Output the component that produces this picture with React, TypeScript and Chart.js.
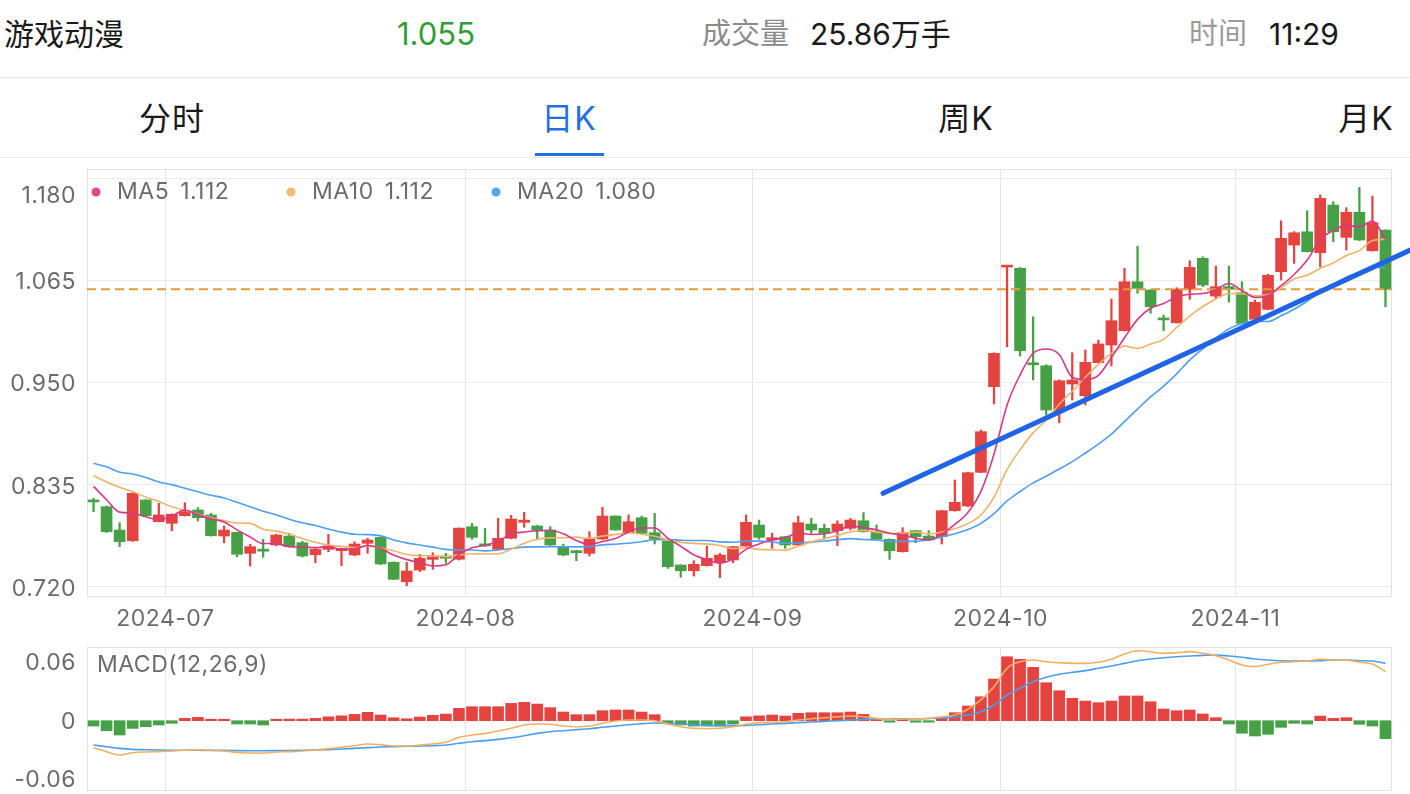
import React, { useEffect, useRef } from 'react';
import { Chart, registerables } from 'chart.js';
Chart.register(...registerables);

// ---------- DATA ----------
const dates = [
  '2024-06-21','2024-06-24','2024-06-25','2024-06-26','2024-06-27','2024-06-28',
  '2024-07-01','2024-07-02','2024-07-03','2024-07-04','2024-07-05','2024-07-08','2024-07-09','2024-07-10','2024-07-11','2024-07-12',
  '2024-07-15','2024-07-16','2024-07-17','2024-07-18','2024-07-19','2024-07-22','2024-07-23','2024-07-24','2024-07-25','2024-07-26',
  '2024-07-29','2024-07-30','2024-07-31',
  '2024-08-01','2024-08-02','2024-08-05','2024-08-06','2024-08-07','2024-08-08','2024-08-09','2024-08-12','2024-08-13','2024-08-14',
  '2024-08-15','2024-08-16','2024-08-19','2024-08-20','2024-08-21','2024-08-22','2024-08-23','2024-08-26','2024-08-27','2024-08-28',
  '2024-08-29','2024-08-30',
  '2024-09-02','2024-09-03','2024-09-04','2024-09-05','2024-09-06','2024-09-09','2024-09-10','2024-09-11','2024-09-12','2024-09-13',
  '2024-09-18','2024-09-19','2024-09-20','2024-09-23','2024-09-24','2024-09-25','2024-09-26','2024-09-27','2024-09-30',
  '2024-10-08','2024-10-09','2024-10-10','2024-10-11','2024-10-14','2024-10-15','2024-10-16','2024-10-17','2024-10-18','2024-10-21',
  '2024-10-22','2024-10-23','2024-10-24','2024-10-25','2024-10-28','2024-10-29','2024-10-30','2024-10-31',
  '2024-11-01','2024-11-04','2024-11-05','2024-11-06','2024-11-07','2024-11-08','2024-11-11','2024-11-12','2024-11-13','2024-11-14',
  '2024-11-15','2024-11-18',
];

const opens = [
  0.8165,0.8101,0.7838,0.7718,0.8177,0.7932,0.7914,0.8000,0.8064,0.8008,
  0.7771,0.7813,0.7576,0.7620,0.7670,0.7771,0.7696,0.7560,0.7621,0.7605,
  0.7557,0.7689,0.7756,0.7475,0.7256,0.7388,0.7508,0.7546,0.7509,0.7876,
  0.7680,0.7621,0.7745,0.7925,0.7884,0.7839,0.7651,0.7605,0.7576,0.7737,
  0.7996,0.7808,0.7977,0.7808,0.7715,0.7444,0.7380,0.7437,0.7470,0.7501,
  0.7658,0.7895,0.7726,0.7763,0.7670,0.7906,0.7858,0.7831,0.7858,0.7943,
  0.7819,0.7734,0.7594,0.7831,0.7771,0.7763,0.8056,0.8110,0.8488,0.9453,
  1.0800,1.0786,0.9718,0.9689,0.9171,0.9483,0.9351,0.9723,0.9922,1.0083,
  1.0635,1.0542,1.0216,1.0173,1.0550,1.0899,1.0474,1.0580,1.0511,1.0212,
  1.0324,1.0748,1.1048,1.1198,1.0962,1.1499,1.1135,1.1417,1.0984,1.1217,
];
const closes = [
  0.8155,0.7819,0.7707,0.8252,0.8000,0.8008,0.8015,0.8045,0.7977,0.7774,
  0.7838,0.7565,0.7651,0.7600,0.7782,0.7651,0.7546,0.7620,0.7660,0.7632,
  0.7681,0.7726,0.7456,0.7283,0.7377,0.7520,0.7535,0.7520,0.7860,0.7756,
  0.7660,0.7745,0.7962,0.7950,0.7839,0.7670,0.7557,0.7583,0.7737,0.7996,
  0.7839,0.7932,0.7801,0.7737,0.7425,0.7380,0.7452,0.7520,0.7557,0.7651,
  0.7925,0.7756,0.7752,0.7670,0.7921,0.7839,0.7801,0.7906,0.7951,0.7819,
  0.7734,0.7605,0.7808,0.7763,0.7726,0.8056,0.8151,0.8484,0.8946,0.9829,
  1.0812,0.9858,0.9700,0.9190,0.9520,0.9528,0.9727,0.9934,1.0196,1.0635,
  1.0561,1.0354,1.0205,1.0550,1.0797,1.0598,1.0579,1.0550,1.0166,1.0403,
  1.0707,1.1124,1.1187,1.0973,1.1574,1.1198,1.1417,1.1105,1.1300,1.0550,
];
const highs = [
  0.8196,0.8110,0.7921,0.8260,0.8180,0.8139,0.8020,0.8146,0.8090,0.8027,
  0.7884,0.7813,0.7678,0.7734,0.7790,0.7801,0.7710,0.7630,0.7790,0.7635,
  0.7707,0.7745,0.7765,0.7480,0.7475,0.7565,0.7583,0.7576,0.7862,0.7914,
  0.7858,0.7970,0.8004,0.8038,0.7890,0.7876,0.7678,0.7610,0.7820,0.8094,
  0.7998,0.8008,0.7996,0.8026,0.7718,0.7448,0.7493,0.7658,0.7576,0.7655,
  0.8008,0.7951,0.7801,0.7766,0.7996,0.7970,0.7906,0.7943,0.7970,0.8034,
  0.7895,0.7738,0.7865,0.7835,0.7831,0.8060,0.8402,0.8490,0.8965,0.9835,
  1.0815,1.0795,1.0241,0.9700,0.9530,0.9836,0.9866,0.9978,1.0440,1.0786,
  1.1037,1.0545,1.0260,1.0568,1.0872,1.0917,1.0812,1.0812,1.0635,1.0429,
  1.0719,1.1322,1.1200,1.1435,1.1612,1.1536,1.1469,1.1698,1.1600,1.1220,
];
const lows = [
  0.8045,0.7810,0.7651,0.7710,0.7990,0.7930,0.7831,0.7995,0.7940,0.7770,
  0.7696,0.7538,0.7433,0.7531,0.7660,0.7645,0.7535,0.7470,0.7594,0.7437,
  0.7550,0.7576,0.7450,0.7278,0.7211,0.7369,0.7396,0.7464,0.7500,0.7734,
  0.7655,0.7615,0.7740,0.7869,0.7734,0.7665,0.7550,0.7493,0.7546,0.7732,
  0.7835,0.7805,0.7798,0.7681,0.7407,0.7306,0.7320,0.7433,0.7302,0.7470,
  0.7655,0.7734,0.7632,0.7632,0.7665,0.7801,0.7745,0.7662,0.7839,0.7815,
  0.7730,0.7508,0.7590,0.7696,0.7722,0.7681,0.8050,0.8100,0.8485,0.9258,
  0.9903,0.9798,0.9528,0.9134,0.9047,0.9303,0.9247,0.9720,0.9686,1.0080,
  1.0505,1.0279,1.0083,1.0170,1.0437,1.0580,1.0448,1.0406,1.0160,1.0185,
  1.0320,1.0654,1.0842,1.0970,1.0804,1.1086,1.0992,1.1100,1.0980,1.0354,
];

const ma5 = [
  0.833,0.818,0.804,0.803,0.7987,0.7957,0.7996,0.8064,0.8009,0.7964,
  0.793,0.784,0.7761,0.7686,0.7687,0.765,0.7646,0.764,0.7652,0.7622,
  0.7628,0.7664,0.7631,0.7556,0.7505,0.7472,0.7434,0.7447,0.7562,0.7638,
  0.7666,0.7708,0.7797,0.7815,0.7831,0.7833,0.7796,0.772,0.7677,0.7709,
  0.7742,0.7817,0.7861,0.7861,0.7747,0.7655,0.7559,0.7503,0.7467,0.7512,
  0.7621,0.7682,0.7728,0.7751,0.7805,0.7788,0.7797,0.7827,0.7884,0.7863,
  0.7842,0.7803,0.7783,0.7746,0.7727,0.7792,0.7901,0.8036,0.8273,0.8693,
  0.9244,0.9586,0.9829,0.9878,0.9816,0.9559,0.9533,0.958,0.9781,1.0004,
  1.0211,1.0336,1.0391,1.0462,1.0494,1.0502,1.0547,1.0615,1.0538,1.0459,
  1.0481,1.059,1.0717,1.0879,1.1113,1.1211,1.127,1.1253,1.1319,1.1114,
];
const ma10 = [
  0.845,0.838,0.832,0.827,0.821,0.816,0.810,0.806,0.802,0.7975,
  0.7944,0.7918,0.7913,0.7847,0.7826,0.779,0.7743,0.77,0.7669,0.7655,
  0.7639,0.7655,0.7635,0.7604,0.7563,0.755,0.7549,0.7539,0.7559,0.7571,
  0.7569,0.7571,0.7622,0.7689,0.7735,0.775,0.7752,0.7758,0.7746,0.777,
  0.7788,0.7807,0.779,0.7769,0.7728,0.7699,0.7688,0.7682,0.7664,0.7629,
  0.7638,0.762,0.7616,0.7609,0.7658,0.7704,0.7739,0.7778,0.7817,0.7834,
  0.7815,0.78,0.7805,0.7815,0.7795,0.7817,0.7852,0.791,0.8009,0.821,
  0.8518,0.8743,0.8933,0.9075,0.9255,0.9402,0.9559,0.9704,0.9829,0.991,
  0.9885,0.9935,0.9986,1.0122,1.0249,1.0356,1.0441,1.0503,1.05,1.0477,
  1.0491,1.0568,1.0666,1.0708,1.0786,1.0846,1.093,1.0985,1.1099,1.1114,
];
const ma20 = [
  0.859,0.855,0.849,0.847,0.843,0.838,0.835,0.831,0.827,0.823,
  0.820,0.815,0.810,0.805,0.801,0.796,0.792,0.789,0.785,0.7815,
  0.7791,0.7787,0.7774,0.7726,0.7694,0.767,0.7646,0.762,0.7614,0.7613,
  0.7604,0.7613,0.7629,0.7646,0.7649,0.765,0.765,0.7649,0.7652,0.7671,
  0.7679,0.7689,0.7706,0.7729,0.7731,0.7724,0.772,0.772,0.7705,0.77,
  0.7713,0.7713,0.7703,0.7689,0.7693,0.7702,0.7714,0.773,0.7741,0.7732,
  0.7726,0.771,0.771,0.7712,0.7727,0.7761,0.7796,0.7844,0.7913,0.8022,
  0.8166,0.8272,0.8369,0.8445,0.8525,0.8609,0.8706,0.8807,0.8919,0.906,
  0.9201,0.9339,0.9459,0.9598,0.9752,0.9879,1.0,1.0104,1.0165,1.0193,
  1.0188,1.0251,1.0326,1.0415,1.0518,1.0601,1.0686,1.0744,1.0799,1.0795,
];

const macdHist = [
  -0.0055,-0.0103,-0.0147,-0.0079,-0.0062,-0.0044,-0.0027,0.0024,0.0034,0.001,
  0.001,-0.0034,-0.0034,-0.0044,0.0013,0.0017,0.0017,0.0024,0.004,0.005,
  0.0065,0.0086,0.0058,0.003,0.002,0.0038,0.0055,0.0068,0.0127,0.0144,
  0.0144,0.0144,0.0178,0.0189,0.0171,0.0134,0.0089,0.0062,0.0062,0.0103,
  0.011,0.011,0.0089,0.0062,-0.002,-0.0044,-0.0055,-0.0055,-0.0055,-0.0034,
  0.004,0.005,0.0058,0.0048,0.0076,0.0082,0.0082,0.0082,0.0089,0.0065,
  0.0024,-0.001,0.001,-0.0015,-0.001,0.0024,0.0082,0.0151,0.0246,0.0428,
  0.0657,0.0631,0.0548,0.039,0.0308,0.023,0.0202,0.0185,0.0202,0.0254,
  0.0254,0.0195,0.012,0.0103,0.011,0.0069,0.0031,-0.0034,-0.0129,-0.0157,
  -0.014,-0.0068,-0.0027,-0.0034,0.0048,0.0024,0.0031,-0.0037,-0.0055,-0.0185,
];
const dif = [
  -0.0277,-0.0318,-0.0352,-0.0329,-0.0321,-0.0318,-0.0311,-0.0304,-0.0298,-0.0304,
  -0.0311,-0.0325,-0.0332,-0.0332,-0.0321,-0.0318,-0.0311,-0.0301,-0.0287,-0.0273,
  -0.0257,-0.0239,-0.0246,-0.026,-0.026,-0.025,-0.0239,-0.0222,-0.017,-0.0147,
  -0.013,-0.0106,-0.0078,-0.0044,-0.0034,-0.0037,-0.0055,-0.0062,-0.0055,-0.0027,
  -0.0003,0.0007,0.0007,0,-0.0034,-0.0062,-0.0078,-0.0082,-0.0078,-0.0062,
  -0.0037,-0.002,-0.0014,-0.001,0.0007,0.002,0.003,0.004,0.0048,0.004,
  0.0024,0.0014,0.0017,0.0017,0.0024,0.0041,0.0058,0.0117,0.0213,0.0349,
  0.0538,0.0606,0.0623,0.0606,0.0596,0.0589,0.0589,0.06,0.0631,0.0685,
  0.0719,0.0709,0.0692,0.0699,0.0709,0.0692,0.0668,0.0623,0.0572,0.0555,
  0.0579,0.06,0.0606,0.0613,0.0631,0.0623,0.0623,0.06,0.0582,0.0503,
];
const dea = [
  -0.025,-0.0267,-0.0284,-0.0294,-0.0298,-0.0301,-0.0303,-0.0304,-0.0304,-0.0305,
  -0.0305,-0.0307,-0.0308,-0.0308,-0.0307,-0.0306,-0.0304,-0.0301,-0.0297,-0.0291,
  -0.0284,-0.0277,-0.027,-0.0267,-0.0263,-0.026,-0.0257,-0.025,-0.0232,-0.0216,
  -0.0205,-0.0192,-0.0175,-0.0154,-0.013,-0.0113,-0.0103,-0.0092,-0.0082,-0.0068,
  -0.0055,-0.0041,-0.0031,-0.0024,-0.0027,-0.0034,-0.004,-0.0048,-0.0051,-0.0051,
  -0.0048,-0.0041,-0.0034,-0.0027,-0.002,-0.0014,-0.0007,0,0.0007,0.0014,
  0.0017,0.0017,0.002,0.002,0.0022,0.0028,0.0038,0.0058,0.0092,0.0161,
  0.0264,0.0333,0.04,0.0446,0.0477,0.0497,0.0514,0.0538,0.0562,0.0589,
  0.0616,0.0634,0.0647,0.0657,0.0664,0.0671,0.0675,0.0664,0.0651,0.0634,
  0.0623,0.0616,0.0613,0.0613,0.0616,0.0623,0.0623,0.0616,0.0613,0.0589,
];

const priceTicks = [0.72, 0.835, 0.95, 1.065, 1.18];
const priceTickLabels = ['0.720', '0.835', '0.950', '1.065', '1.180'];
const macdTicks = [0.06, 0, -0.06];
const macdTickLabels = ['0.06', '0', '-0.06'];
const lastPrice = 1.055;
const trendStart = { x: 61.0, y: 0.8252 };
const trendEnd = { x: 101.4, y: 1.0992 };
const legendNames = ['MA5', 'MA10', 'MA20'];
const legendValues = ['1.112', '1.112', '1.080'];
const macdTitle = 'MACD(12,26,9)';

// ---------- STYLE ----------
const FF = 'Inter, "Noto Sans CJK SC", sans-serif';
const LABEL_FONT = '23px Inter, "Noto Sans CJK SC", sans-serif';
const LABEL_COLOR = '#6b6b6b';
const UP = '#e4433f';
const DOWN = '#46a046';
const MA_COLORS = ['#d6378a', '#f0b366', '#4f9ef0'];
const LEGEND_DOTS = ['#e0468f', '#f3bb74', '#58a4f2'];
const LEGEND_X = [96, 291, 496];

const N = dates.length;
const monthTicks: { index: number; label: string }[] = [];
dates.forEach((d, i) => {
  if (i > 0 && d.slice(0, 7) !== dates[i - 1].slice(0, 7)) monthTicks.push({ index: i, label: d.slice(0, 7) });
});
const xs = dates.map((_, i) => i + 0.5);
const candleColors = opens.map((o, i) => (closes[i] >= o ? UP : DOWN));

const frame = (chart: any) => {
  const { ctx, chartArea: a } = chart;
  ctx.save();
  ctx.strokeStyle = '#e2e2e2';
  ctx.lineWidth = 1;
  ctx.strokeRect(Math.round(a.left) + 0.5, Math.round(a.top) + 0.5, Math.round(a.right - a.left) - 1, Math.round(a.bottom - a.top) - 1);
  ctx.restore();
};

const kPlugin = {
  id: 'kdeco',
  beforeDatasetsDraw(chart: any) { frame(chart); },
  afterDraw(chart: any) {
    const { ctx, chartArea: a, scales } = chart;
    ctx.save();
    (ctx as any).letterSpacing = '0.5px';
    ctx.font = LABEL_FONT;
    ctx.fillStyle = LABEL_COLOR;
    ctx.textBaseline = 'middle';
    ctx.textAlign = 'right';
    priceTicks.forEach((v, k) => {
      let y = scales.y.getPixelForValue(v) + 2;
      if (y - 14 < a.top) y += 16;
      ctx.fillText(priceTickLabels[k], 76, y);
    });
    ctx.textAlign = 'center';
    monthTicks.forEach((m) => ctx.fillText(m.label, scales.x.getPixelForValue(m.index), a.bottom + 22));
    ctx.textAlign = 'left';
    legendNames.forEach((name, k) => {
      const lx = LEGEND_X[k];
      const ly = a.top + 23;
      ctx.fillStyle = LEGEND_DOTS[k];
      ctx.beginPath();
      ctx.arc(lx, ly, 4.5, 0, Math.PI * 2);
      ctx.fill();
      ctx.fillStyle = LABEL_COLOR;
      ctx.fillText(name, lx + 21, ly);
      const w = ctx.measureText(name).width;
      ctx.fillText(legendValues[k], lx + 21 + w + 11, ly);
    });
    ctx.restore();
  },
};

const mPlugin = {
  id: 'mdeco',
  beforeDatasetsDraw(chart: any) { frame(chart); },
  afterDraw(chart: any) {
    const { ctx, chartArea: a, scales } = chart;
    ctx.save();
    (ctx as any).letterSpacing = '0.5px';
    ctx.font = LABEL_FONT;
    ctx.fillStyle = LABEL_COLOR;
    ctx.textBaseline = 'middle';
    ctx.textAlign = 'right';
    macdTicks.forEach((v, k) => ctx.fillText(macdTickLabels[k], 76, scales.y.getPixelForValue(v) + 1));
    ctx.textAlign = 'left';
    ctx.fillText(macdTitle, 97, a.top + 18);
    ctx.restore();
  },
};

const xScale = (grid = true) => ({
  type: 'linear' as const,
  min: 0,
  max: N,
  offset: false,
  afterBuildTicks: (s: any) => { s.ticks = monthTicks.map((m) => ({ value: m.index })); },
  ticks: { display: false },
  grid: { display: grid, offset: false, color: '#e6e6e6', drawTicks: false, lineWidth: 1 },
  border: { display: false },
});

const lineDs = (data: number[], color: string, order: number) => ({
  type: 'line' as const,
  data: data.map((v, i) => ({ x: xs[i], y: v })),
  borderColor: color,
  borderWidth: 1.6,
  pointRadius: 0,
  cubicInterpolationMode: 'monotone' as const,
  order,
});

export default function App() {
  const c1 = useRef<HTMLCanvasElement>(null);
  const c2 = useRef<HTMLCanvasElement>(null);

  useEffect(() => {
    const ch1 = new Chart(c1.current as HTMLCanvasElement, {
      type: 'bar',
      data: {
        datasets: [
          {
            type: 'line',
            data: [trendStart, trendEnd],
            borderColor: '#1f64e4',
            borderWidth: 5,
            borderCapStyle: 'round',
            pointRadius: 0,
            clip: false,
            order: 0,
          } as any,
          lineDs(ma5, MA_COLORS[0], 1),
          lineDs(ma10, MA_COLORS[1], 1),
          lineDs(ma20, MA_COLORS[2], 1),
          {
            type: 'line',
            data: [{ x: 0, y: lastPrice }, { x: N, y: lastPrice }],
            borderColor: '#e29a3c',
            borderWidth: 2,
            borderDash: [9, 5],
            pointRadius: 0,
            order: 2,
          } as any,
          {
            type: 'bar',
            data: opens.map((o, i) => ({ x: xs[i], y: [o, closes[i]] })),
            backgroundColor: candleColors,
            barThickness: 11,
            minBarLength: 2,
            grouped: false,
            order: 3,
          } as any,
          {
            type: 'bar',
            data: highs.map((h, i) => ({ x: xs[i], y: [lows[i], h] })),
            backgroundColor: candleColors,
            barThickness: 1.6,
            grouped: false,
            order: 4,
          } as any,
        ],
      },
      options: {
        responsive: false,
        animation: false,
        layout: { padding: { left: 87, right: 18, top: 9, bottom: 33 } },
        plugins: { legend: { display: false }, tooltip: { enabled: false } },
        scales: {
          x: xScale() as any,
          y: {
            type: 'linear',
            min: 0.7084,
            max: 1.1905,
            afterBuildTicks: (s: any) => { s.ticks = priceTicks.map((v) => ({ value: v })); },
            ticks: { display: false },
            grid: { color: '#ececec', drawTicks: false },
            border: { display: false },
          },
        },
      },
      plugins: [kPlugin],
    });

    const ch2 = new Chart(c2.current as HTMLCanvasElement, {
      type: 'bar',
      data: {
        datasets: [
          lineDs(dif, '#f0b060', 0),
          lineDs(dea, '#4a9ef0', 0),
          {
            type: 'bar',
            data: macdHist.map((v, i) => ({ x: xs[i], y: v })),
            backgroundColor: macdHist.map((v) => (v >= 0 ? UP : DOWN)),
            barThickness: 11,
            minBarLength: 1.5,
            grouped: false,
            order: 2,
          } as any,
        ],
      },
      options: {
        responsive: false,
        animation: false,
        layout: { padding: { left: 87, right: 18, top: 11, bottom: 3 } },
        plugins: { legend: { display: false }, tooltip: { enabled: false } },
        scales: {
          x: xScale() as any,
          y: {
            type: 'linear',
            min: -0.0722,
            max: 0.0757,
            ticks: { display: false },
            grid: { display: false, drawTicks: false },
            border: { display: false },
          },
        },
      },
      plugins: [mPlugin],
    });

    return () => {
      ch1.destroy();
      ch2.destroy();
    };
  }, []);

  const txt = (s: string, left: number, cy: number, size: number, color: string, extra: any = {}) => (
    <div
      style={{
        position: 'absolute',
        left,
        top: cy - 25,
        height: 50,
        lineHeight: '50px',
        fontSize: size,
        color,
        whiteSpace: 'nowrap',
        ...extra,
      }}
    >
      {s}
    </div>
  );
  const tab = (s: string, cx: number, color: string) => txt(s, cx - 100, 119, 32, color, { width: 200, textAlign: 'center', letterSpacing: '1px' });

  return (
    <div
      style={{
        position: 'absolute',
        left: 0,
        top: 0,
        width: 1410,
        height: 794,
        background: '#ffffff',
        overflow: 'hidden',
        fontFamily: FF,
      }}
    >
      {txt('游戏动漫', 4, 34, 30, '#1a1a1a')}
      {txt('1.055', 397, 34, 31, '#2f9e36')}
      {txt('成交量', 702, 34, 29, '#8a8a8a')}
      {txt('25.86万手', 810, 34, 30, '#1a1a1a')}
      {txt('时间', 1189, 34, 29, '#9a9a9a')}
      {txt('11:29', 1269, 34, 30, '#1a1a1a')}
      <div style={{ position: 'absolute', left: 0, top: 77, width: 1410, height: 1, background: '#e8e8e8' }} />
      {tab('分时', 172, '#1a1a1a')}
      {tab('日K', 569, '#1f6fe5')}
      {tab('周K', 966, '#1a1a1a')}
      {tab('月K', 1366, '#1a1a1a')}
      <div style={{ position: 'absolute', left: 535, top: 153, width: 69, height: 3, background: '#1f6fe5' }} />
      <div style={{ position: 'absolute', left: 0, top: 157, width: 1410, height: 1, background: '#ececec' }} />
      <canvas
        ref={c1}
        width={1410}
        height={470}
        style={{ position: 'absolute', left: 0, top: 160, width: 1410, height: 470 }}
      />
      <canvas
        ref={c2}
        width={1410}
        height={158}
        style={{ position: 'absolute', left: 0, top: 636, width: 1410, height: 158 }}
      />
    </div>
  );
}
